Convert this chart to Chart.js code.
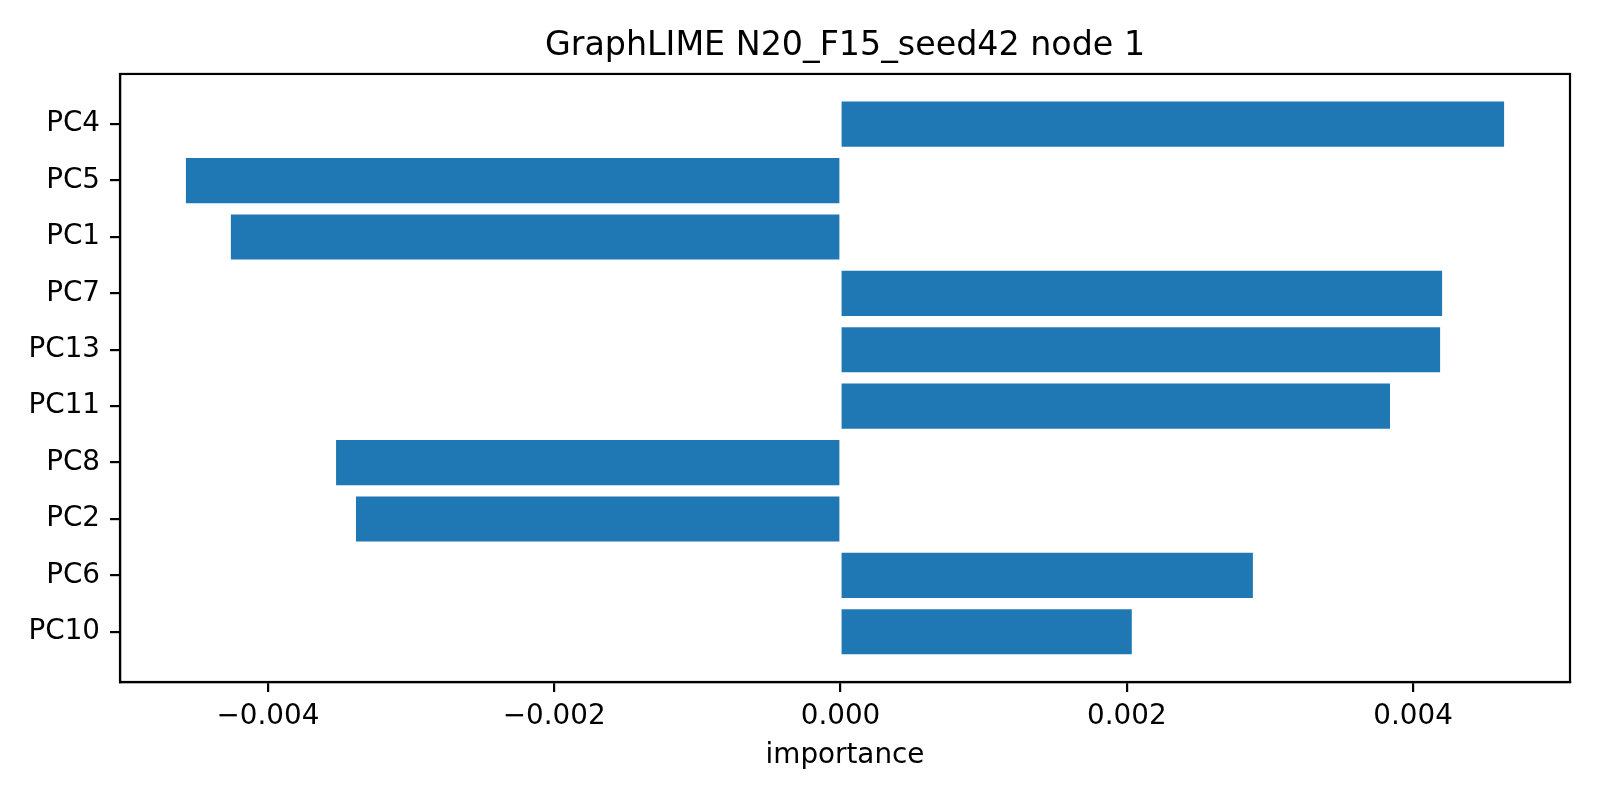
<!DOCTYPE html>
<html>
<head>
<meta charset="utf-8">
<script src="https://cdn.jsdelivr.net/npm/chart.js@4.4.0/dist/chart.umd.min.js"></script>
<style>
  html, body { margin: 0; padding: 0; background: #ffffff; }
  #wrap { width: 1600px; height: 800px; }
</style>
</head>
<body>
<div id="wrap"><canvas id="chart" width="1600" height="800"></canvas></div>
<script>
// Feature importances, top to bottom
const features = ["PC4", "PC5", "PC1", "PC7", "PC13", "PC11", "PC8", "PC2", "PC6", "PC10"];
const importance = [0.004636, -0.004573, -0.004259, 0.004203, 0.004189, 0.003839, -0.003524, -0.003385, 0.002881, 0.002035];
const xTicks = [-0.004, -0.002, 0, 0.002, 0.004];

const barColor = "#1f77b4";
const tickFont = { family: "'DejaVu Sans', sans-serif", size: 27.8 };

// matplotlib-like 5% margins
const lo = Math.min(...importance, 0);
const hi = Math.max(...importance, 0);
const padX = (hi - lo) * 0.05;
const padY = (features.length - 1 + 0.8) * 0.05;

// full box around the plot area (matplotlib spines)
const frame = {
  id: "frame",
  afterDraw(chart) {
    const { ctx, chartArea: a } = chart;
    ctx.save();
    ctx.strokeStyle = "#000";
    ctx.lineWidth = 2.2;
    ctx.strokeRect(a.left, a.top, a.right - a.left, a.bottom - a.top);
    ctx.restore();
  },
};

Chart.defaults.font.family = "'DejaVu Sans', sans-serif";
Chart.defaults.color = "#000";

new Chart(document.getElementById("chart"), {
  type: "bar",
  data: {
    datasets: [
      {
        data: importance.map((v, i) => ({ x: v, y: i })),
        backgroundColor: barColor,
        borderWidth: 0,
        categoryPercentage: 1,
        barPercentage: 0.8,
      },
    ],
  },
  options: {
    indexAxis: "y",
    responsive: false,
    animation: false,
    devicePixelRatio: 1,
    layout: { padding: { left: 0, right: 30, top: 0, bottom: 0 } },
    plugins: {
      legend: { display: false },
      tooltip: { enabled: false },
      title: {
        display: true,
        text: "GraphLIME N20_F15_seed42 node 1",
        fullSize: false,
        color: "#000",
        font: { family: "'DejaVu Sans', sans-serif", size: 33.3, weight: "normal", lineHeight: 1.2 },
        padding: { top: 26, bottom: 8 },
      },
    },
    scales: {
      x: {
        type: "linear",
        bounds: "data",
        min: lo - padX,
        max: hi + padX,
        afterBuildTicks: (scale) => {
          scale.ticks = xTicks.map((v) => ({ value: v }));
        },
        afterFit: (scale) => {
          scale.height = 118;
        },
        grid: { drawOnChartArea: false, drawTicks: true, tickLength: 10, color: "#000", lineWidth: 2.2 },
        border: { display: true, color: "#000", width: 2.2 },
        ticks: {
          font: tickFont,
          color: "#000",
          padding: 8,
          maxRotation: 0,
          callback: (v) => (v === 0 ? "0.000" : v.toFixed(3).replace("-", "\u2212")),
        },
        title: {
          display: true,
          text: "importance",
          color: "#000",
          font: tickFont,
          padding: { top: 0, bottom: 28 },
        },
      },
      y: {
        type: "linear",
        bounds: "data",
        offset: false,
        reverse: true,
        min: -0.4 - padY,
        max: features.length - 1 + 0.4 + padY,
        afterBuildTicks: (scale) => {
          scale.ticks = features.map((_, i) => ({ value: i }));
        },
        afterFit: (scale) => {
          scale.width = 120;
        },
        grid: { offset: false, drawOnChartArea: false, drawTicks: true, tickLength: 10, color: "#000", lineWidth: 2.2 },
        border: { display: true, color: "#000", width: 2.2 },
        ticks: {
          font: tickFont,
          color: "#000",
          padding: 10,
          callback: (v) => features[v],
        },
      },
    },
  },
  plugins: [frame],
});
</script>
</body>
</html>
